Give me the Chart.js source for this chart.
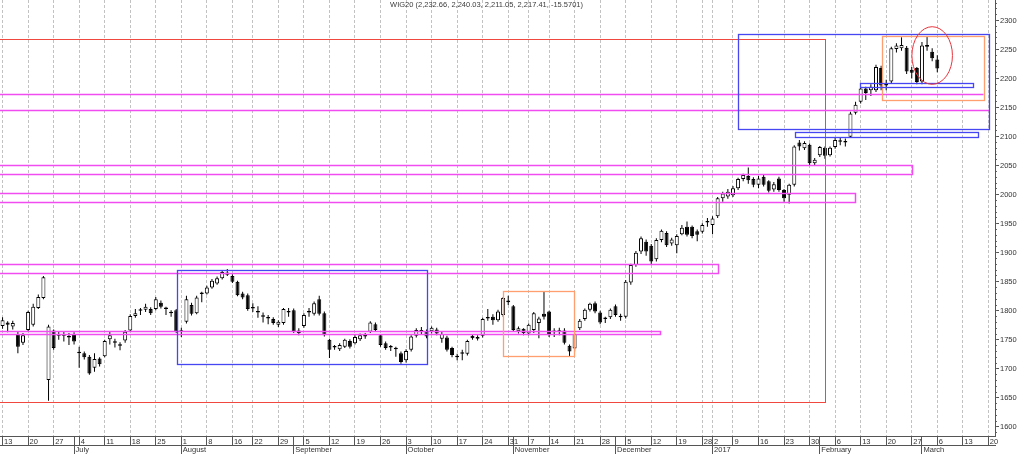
<!DOCTYPE html>
<html><head><meta charset="utf-8">
<script src="https://cdn.jsdelivr.net/npm/chart.js@4.4.0/dist/chart.umd.min.js"></script>
<style>html,body{margin:0;padding:0;background:#fff;overflow:hidden}canvas{display:block}</style>
</head><body>
<canvas id="c" width="1024" height="454"></canvas>
<script>
const chartTitle = 'WIG20 (2,232.66, 2,240.03, 2,211.05, 2,217.41, -15.5701)';
const firstDay = '2016-06-13';
const lastDay = '2017-03-20';
const holidays = ['2016-08-15','2016-11-01','2016-11-11','2016-12-26','2016-12-27','2016-12-30','2017-01-06'];

const open = [1774,1780,1773,1760,1745,1767,1776,1805,1822,1681,
1766,1759,1757,1756,1760,1729,1727,1721,1702,1718,
1722,1751,1747,1741,1749,1766,1791,1800,1802,1803,
1803,1814,1804,1797,1801,1766,1781,1810,1796,1829,
1830,1840,1847,1856,1866,1860,1850,1830,1827,1806,
1799,1792,1789,1786,1776,1779,1799,1801,1762,1774,
1797,1795,1820,1796,1750,1738,1734,1738,1748,1744,
1751,1756,1764,1777,1758,1744,1738,1734,1727,1715,
1733,1757,1763,1765,1765,1768,1752,1754,1736,1720,
1727,1726,1757,1752,1757,1788,1790,1784,1793,1818,
1808,1765,1769,1761,1767,1779,1795,1799,1763,1766,
1766,1740,1735,1770,1786,1802,1813,1797,1788,1789,
1808,1789,1790,1849,1879,1902,1919,1912,1889,1922,
1934,1916,1913,1932,1945,1945,1937,1936,1952,1948,
1963,1994,1997,1999,2011,2027,2032,2027,2017,2031,
2023,2009,2028,2008,2000,2017,2090,2080,2086,2054,
2068,2081,2068,2082,2091,2092,2100,2141,2160,2183,
2180,2180,2218,2188,2195,2251,2252,2253,2215,2218,
2195,2258,2246,2232.66];
const high = [1789,1782,1783,1765,1762,1800,1812,1828,1860,1776,
1768,1764,1764,1762,1763,1738,1730,1724,1727,1720,
1750,1765,1752,1746,1767,1794,1803,1805,1812,1806,
1824,1818,1807,1801,1803,1771,1826,1814,1826,1833,
1843,1855,1859,1870,1872,1863,1852,1833,1830,1813,
1808,1797,1793,1789,1784,1805,1805,1804,1770,1796,
1805,1816,1826,1799,1752,1741,1744,1752,1751,1758,
1761,1762,1782,1780,1760,1747,1741,1738,1730,1734,
1758,1770,1772,1768,1773,1771,1764,1757,1738,1726,
1733,1750,1760,1758,1788,1803,1794,1802,1824,1826,
1810,1773,1770,1778,1798,1790,1834,1800,1770,1771,
1770,1742,1762,1786,1804,1814,1816,1800,1790,1804,
1811,1795,1853,1881,1903,1928,1923,1915,1925,1940,
1937,1926,1932,1948,1954,1947,1940,1951,1960,1963,
1996,2005,2010,2015,2029,2036,2047,2030,2032,2034,
2025,2022,2031,2010,2019,2085,2094,2092,2088,2063,
2084,2083,2083,2098,2098,2097,2143,2160,2186,2186,
2190,2224,2222,2198,2255,2261,2271,2256,2220,2220,
2263,2272,2252,2240.03];
const low = [1769,1763,1768,1727,1741,1765,1773,1803,1820,1645,
1733,1750,1747,1741,1742,1702,1716,1690,1695,1704,
1720,1742,1737,1732,1745,1764,1788,1793,1798,1793,
1801,1804,1793,1790,1762,1755,1778,1792,1794,1815,
1828,1838,1845,1854,1860,1848,1825,1820,1800,1798,
1788,1780,1777,1776,1772,1776,1790,1762,1758,1771,
1790,1792,1792,1756,1719,1733,1731,1736,1735,1742,
1748,1752,1762,1765,1738,1733,1731,1721,1709,1711,
1730,1754,1760,1753,1761,1758,1745,1730,1720,1715,
1715,1723,1750,1749,1754,1783,1776,1781,1790,1810,
1765,1761,1758,1758,1762,1753,1785,1755,1755,1758,
1742,1722,1730,1767,1783,1799,1796,1777,1779,1786,
1790,1783,1787,1845,1876,1898,1895,1879,1885,1918,
1910,1912,1899,1930,1928,1925,1920,1933,1945,1932,
1960,1988,1993,1996,2008,2023,2019,2013,2011,2014,
2004,2005,2005,1988,1985,2014,2076,2077,2051,2050,
2065,2062,2066,2079,2085,2083,2098,2138,2157,2163,
2170,2177,2180,2180,2192,2245,2248,2208,2200,2190,
2190,2248,2230,2211.05];
const close = [1784,1776,1779,1738,1758,1798,1807,1824,1858,1773,
1736,1757,1759,1754,1747,1727,1720,1692,1717,1708,
1748,1758,1745,1740,1764,1791,1796,1801,1807,1796,
1820,1807,1803,1796,1764,1764,1820,1795,1823,1831,
1840,1852,1856,1867,1862,1850,1827,1823,1803,1804,
1797,1790,1787,1779,1781,1803,1797,1764,1766,1793,
1799,1813,1795,1758,1733,1737,1741,1750,1738,1755,
1758,1757,1780,1767,1741,1736,1737,1735,1712,1731,
1756,1767,1767,1756,1771,1761,1760,1733,1724,1721,
1726,1748,1753,1755,1786,1787,1784,1799,1822,1815,
1767,1770,1762,1776,1796,1787,1790,1758,1766,1764,
1745,1730,1760,1783,1802,1812,1799,1780,1786,1802,
1793,1791,1850,1879,1900,1925,1902,1885,1922,1938,
1913,1923,1929,1943,1931,1929,1931,1948,1953,1959,
1994,2002,2005,2011,2027,2034,2025,2017,2028,2017,
2007,2018,2008,1994,2017,2083,2083,2089,2054,2060,
2082,2067,2081,2094,2093,2090,2140,2155,2183,2175,
2186,2220,2188,2190,2252,2257,2258,2212,2210,2194,
2257,2255,2235,2217.41];

const weekLabels = ['13','20','27','4','11','18','25','1','8','16','22','29','5','12','19','26','3','10','17','24','31','7','14','21','28','5','12','19','28','2','9','16','23','30','6','13','20','27','6','13','20'];
const monthLabels = ['July','August','September','October','November','December','2017','February','March'];
const yTickLabels = [1600,1650,1700,1750,1800,1850,1900,1950,2000,2050,2100,2150,2200,2250,2300];

// drawn studies, in (trading-day index, index points)
const blueBoxes = [[34.1, 83.0, 1870.3, 1708.0], [144.0, 193.1, 2276.2, 2112.6], [167.9, 190.0, 2191.8, 2185.0], [155.2, 191.0, 2108.5, 2099.4]];
const orangeBoxes = [[98.0, 111.9, 1834.2, 1722.3], [172.1, 192.2, 2273.0, 2162.6]];
const magentaBoxes = [[-5, 178.0, 2051.2, 2035.6], [-5, 166.9, 2002.4, 1987.0], [-5, 140.0, 1880.2, 1864.7], [-5, 128.8, 1765.8, 1760.1]];
const magentaLines = [[-5, 192.0, 2172.9], [-5, 193.1, 2146.4]];
const redBoxes = [[-5, 161.0, 2268.0, 1643.0]];
const redEllipses = [[182.0, 2239.7, 3.97, 49.6]];

// ---- trading calendar ----
function ymd(d){return d.toISOString().slice(0,10);}
const tradingDates = [];
for (let d = new Date(firstDay+'T00:00:00Z'); d <= new Date(lastDay+'T00:00:00Z'); d = new Date(d.getTime()+86400000)) {
  const wd = d.getUTCDay();
  if (wd === 0 || wd === 6) continue;
  if (holidays.includes(ymd(d))) continue;
  tradingDates.push(d);
}
const weekStarts = [], monthStarts = [];
tradingDates.forEach((d,i)=>{
  const p = tradingDates[i-1];
  if (!p || d.getUTCDay() <= p.getUTCDay() || (d-p) >= 7*86400000) weekStarts.push(i);
  if (p && d.getUTCMonth() !== p.getUTCMonth()) monthStarts.push(i);
});
const weekLabelMap = new Map(weekStarts.map((v,k)=>[v, weekLabels[k]]));
const monthLabelMap = new Map(monthStarts.map((v,k)=>[v, monthLabels[k]]));
const weekSet = new Set(weekStarts);
const xTickValues = Array.from(new Set([...weekStarts, ...monthStarts])).sort((a,b)=>a-b);
const yMinorTicks = [];
for (let v = 1590; v <= 2330; v += 10) yMinorTicks.push(v);

const bodies = open.map((o,i)=>({x:i, y:[o, close[i]]}));
const wicks = low.map((l,i)=>({x:i, y:[l, high[i]]}));

const X_MIN = -0.5, X_MAX = 194.3, Y_MIN = 1583.6, Y_MAX = 2335.3;
const FONT = '"Liberation Sans", Arial, sans-serif';
Chart.defaults.font.family = FONT;

const studiesPlugin = {
  id: 'studies',
  afterDatasetsDraw(chart) {
    const {ctx, chartArea:a, scales:{x, y}} = chart;
    const px = v => Math.round(x.getPixelForValue(v)) + 0.5;
    const py = v => Math.round(y.getPixelForValue(v)) + 0.5;
    ctx.save();
    ctx.beginPath(); ctx.rect(a.left, a.top, a.right-a.left, a.bottom-a.top); ctx.clip();
    function boxes(list, color, w) {
      ctx.strokeStyle = color; ctx.lineWidth = w;
      list.forEach(([x1,x2,y1,y2])=>{
        ctx.strokeRect(px(x1), py(y1), px(x2)-px(x1), py(y2)-py(y1));
      });
    }
    boxes(redBoxes, '#f0483e', 1);
    boxes(magentaBoxes, '#f04cf0', 1.5);
    ctx.strokeStyle = '#f04cf0'; ctx.lineWidth = 1.5;
    magentaLines.forEach(([x1,x2,yv])=>{ctx.beginPath(); ctx.moveTo(px(x1), py(yv)); ctx.lineTo(px(x2), py(yv)); ctx.stroke();});
    boxes(orangeBoxes, '#ff9e6e', 1.3);
    boxes(blueBoxes, '#4646f2', 1.3);
    ctx.strokeStyle = '#e8343c'; ctx.lineWidth = 1;
    redEllipses.forEach(([cx,cy,rx,ry])=>{
      const cxp = x.getPixelForValue(cx), cyp = y.getPixelForValue(cy);
      const rxp = Math.abs(x.getPixelForValue(cx+rx)-cxp), ryp = Math.abs(y.getPixelForValue(cy+ry)-cyp);
      ctx.beginPath(); ctx.ellipse(cxp, cyp, rxp, ryp, 0, 0, Math.PI*2); ctx.stroke();
    });
    ctx.restore();
  },
  afterDraw(chart) {
    const {ctx, chartArea:a} = chart;
    ctx.save();
    ctx.font = '7.5px ' + FONT;
    ctx.fillStyle = '#3c3c3c';
    ctx.textAlign = 'center'; ctx.textBaseline = 'middle';
    ctx.fillText(chartTitle, a.left + (a.right-a.left)*0.489, 5);
    ctx.restore();
  }
};

new Chart(document.getElementById('c'), {
  type: 'bar',
  data: {
    datasets: [
      { label: 'body', data: bodies, grouped: false, order: 0, barThickness: 4, minBarLength: 1.5,
        borderWidth: 1, borderSkipped: false, borderColor: '#000', inflateAmount: 0,
        backgroundColor: c => (close[c.dataIndex] >= open[c.dataIndex] ? '#ffffff' : '#000000') },
      { label: 'wick', data: wicks, grouped: false, order: 1, barThickness: 1, borderWidth: 0,
        inflateAmount: 0, backgroundColor: '#000000' }
    ]
  },
  options: {
    responsive: false, animation: false, devicePixelRatio: 1,
    layout: { padding: 0, autoPadding: false },
    plugins: { legend: { display: false }, tooltip: { enabled: false }, title: { display: false } },
    scales: {
      x: {
        type: 'linear', position: 'bottom', weight: 0, min: X_MIN, max: X_MAX, offset: false,
        afterBuildTicks: s => { s.ticks = xTickValues.map(v => ({value: v})); },
        afterFit: s => { s.height = 9; s.paddingLeft = 0; s.paddingRight = 0; },
        ticks: { autoSkip: false, maxRotation: 0, minRotation: 0, align: 'start', labelOffset: 1.5, padding: -8.5,
          font: { size: 7.5 }, color: '#333', callback: v => weekLabelMap.get(v) ?? '' },
        grid: { offset: false, drawOnChartArea: true, lineWidth: 1,
          color: c => (c.tick && weekSet.has(c.tick.value)) ? '#c2c2c2' : 'rgba(0,0,0,0)',
          drawTicks: true, tickLength: 9, tickColor: '#555', tickWidth: 1, tickBorderDash: [] },
        border: { display: true, color: '#555', width: 1, dash: [3, 2] }
      },
      x2: {
        type: 'linear', position: 'bottom', weight: 1, min: X_MIN, max: X_MAX, offset: false,
        afterBuildTicks: s => { s.ticks = monthStarts.map(v => ({value: v})); },
        afterFit: s => { s.height = 8.5; s.paddingLeft = 0; s.paddingRight = 0; },
        ticks: { autoSkip: false, maxRotation: 0, minRotation: 0, align: 'start', labelOffset: 1.5, padding: -8.5,
          font: { size: 7.5 }, color: '#333', callback: v => monthLabelMap.get(v) ?? '' },
        grid: { offset: false, drawOnChartArea: false, tickLength: 8.5, tickColor: '#555', color: '#555' },
        border: { display: true, color: '#555', width: 1 }
      },
      y: {
        type: 'linear', position: 'right', weight: 1, min: Y_MIN, max: Y_MAX,
        afterBuildTicks: s => { s.ticks = yTickLabels.map(v => ({value: v})); },
        afterFit: s => { s.width = 29; s.paddingTop = 0; s.paddingBottom = 0; },
        ticks: { autoSkip: false, padding: 1, font: { size: 7.5 }, color: '#333', callback: v => String(v) },
        grid: { drawOnChartArea: false, tickLength: 4, tickColor: '#555', color: '#555' },
        border: { display: true, color: '#555', width: 1 }
      },
      y2: {
        type: 'linear', position: 'right', weight: 0, min: Y_MIN, max: Y_MAX,
        afterBuildTicks: s => { s.ticks = yMinorTicks.map(v => ({value: v})); },
        afterFit: s => { s.width = 0; s.paddingTop = 0; s.paddingBottom = 0; },
        ticks: { display: false },
        grid: { drawOnChartArea: false, tickLength: 2, tickColor: '#666', color: '#666' },
        border: { display: false }
      }
    }
  },
  plugins: [studiesPlugin]
});
</script>
</body></html>
